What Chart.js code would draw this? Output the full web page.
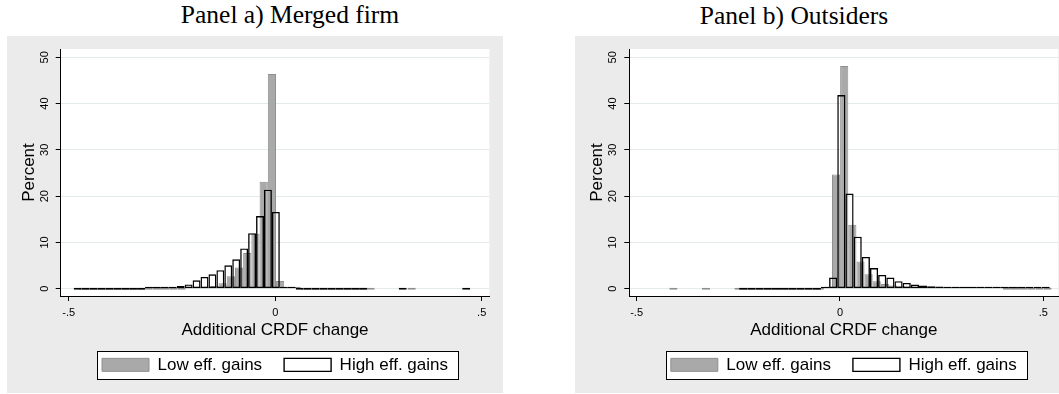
<!DOCTYPE html>
<html>
<head>
<meta charset="utf-8">
<script src="https://cdn.jsdelivr.net/npm/chart.js@4.4.1/dist/chart.umd.min.js"></script>
<style>
  html, body { margin: 0; padding: 0; background: #fff; }
  body { position: relative; width: 1059px; height: 394px; overflow: hidden; }
  .ptitle {
    position: absolute; top: 0; width: 400px; text-align: center;
    font-family: "Liberation Serif", "Times New Roman", serif; font-size: 25.5px;
    line-height: 30px; color: #000; white-space: nowrap;
  }
  .panel { position: absolute; top: 36px; height: 357px; background: #ebebeb; }
  canvas { display: block; }
</style>
</head>
<body>
<div class="ptitle" id="titleA" style="left:90px"></div>
<div class="ptitle" id="titleB" style="left:594px;top:1px"></div>
<div class="panel" style="left:7px;width:496px"><canvas id="chartA" width="496" height="357"></canvas></div>
<div class="panel" style="left:575px;width:484px"><canvas id="chartB" width="484" height="357"></canvas></div>
<script>
// ---- data ----
const panelTitles = ['Panel a) Merged firm', 'Panel b) Outsiders'];
const seriesNames = ['Low eff. gains', 'High eff. gains'];
const xAxisTitle = 'Additional CRDF change';
const yAxisTitle = 'Percent';
const xTickValues = [-0.5, 0, 0.5];
const xTickLabels = ['-.5', '0', '.5'];
const yTickValues = [0, 10, 20, 30, 40, 50];

// Merged firm, low efficiency gains: first bin edge, bin width, percent per bin
const mergedLowStart = -0.4756;
const mergedLowWidth = 0.0199;
const mergedLowPct = [
  0, 0, 0, 0, 0, 0, 0, 0, 0, 0, 0, 0, 0,
  0.07, 0.15, 0.3, 0.6, 1.2, 2.7, 4.6, 7.7, 11.9, 23.1, 46.4, 1.65, 0.3, 0.1,
  0, 0, 0, 0, 0, 0, 0, 0, 0,
  null, null, null, null, 0
];

// Merged firm, high efficiency gains
const mergedHighStart = -0.488;
const mergedHighWidth = 0.0192;
const mergedHighPct = [
  0, 0, 0, 0, 0, 0, 0, 0, 0,
  0.06, 0.12, 0.22, 0.35, 0.6, 0.92, 1.8, 2.55, 3.1, 4.0, 5.05, 6.35, 8.7, 12.0, 15.7, 21.4, 16.6, 0.4, 0.15,
  0, 0, 0, 0, 0, 0, 0, 0, 0,
  null, null, null, null, 0,
  null, null, null, null, null, null, null, 0
];

// Outsiders, low efficiency gains
const outsiderLowStart = -0.4195;
const outsiderLowWidth = 0.02;
const outsiderLowPct = [
  0, null, null, null, 0, null, null, null,
  0, 0, 0, 0, 0, 0, 0, 0, 0, 0, 0,
  0.3, 24.7, 48.1, 13.8, 5.85, 3.1, 1.6, 1.0, 0.7, 0.55, 0.45, 0.38, 0.32, 0.27, 0.22,
  0.18, 0.15, 0.12, 0.1, 0.08, 0.06, 0.05,
  0, 0, 0, 0, 0, 0
];

// Outsiders, high efficiency gains
const outsiderHighStart = -0.2478;
const outsiderHighWidth = 0.0201;
const outsiderHighPct = [
  0, 0, 0, 0, 0, 0, 0, 0, 0, 0,
  0.2, 2.4, 41.85, 20.55, 11.25, 6.87, 4.45, 2.97, 2.4, 1.63, 1.25, 0.9, 0.68, 0.52,
  0.45, 0.4, 0.33, 0.28, 0.24, 0.2, 0.17, 0.14, 0.12, 0.1, 0.08, 0.06, 0.05, 0.04
];

// ---- drawing ----
document.getElementById('titleA').textContent = panelTitles[0];
document.getElementById('titleB').textContent = panelTitles[1];

const SANS = '"Liberation Sans", Arial, sans-serif';
Chart.defaults.font.family = SANS;
Chart.defaults.color = '#000';

function binPoints(start, width, pct) {
  return pct.map((v, i) => ({ x: start + width * (i + 0.5), y: v }));
}

// white plot region and framed legend box
const plotFrame = {
  id: 'plotFrame',
  beforeDraw(chart) {
    const { ctx, chartArea: a } = chart;
    ctx.save();
    ctx.fillStyle = '#ffffff';
    ctx.fillRect(a.left, a.top, a.right - a.left, a.bottom - a.top);
    const hb = chart.legend && chart.legend.legendHitBoxes;
    if (hb && hb.length) {
      const first = hb[0], last = hb[hb.length - 1];
      const cy = first.top + first.height / 2;
      const x0 = Math.round(first.left - 5) + 0.5;
      const x1 = Math.round(last.left + last.width + 10) + 0.5;
      const y0 = Math.round(cy - 14) + 0.5;
      ctx.fillRect(x0, y0, x1 - x0, 28);
      ctx.strokeStyle = '#000';
      ctx.lineWidth = 1;
      ctx.strokeRect(x0, y0, x1 - x0, 28);
    }
    ctx.restore();
  }
};

function makePanel(id, low, high, g) {
  const xCommon = {
    type: 'linear', min: g.xMin, max: g.xMax, offset: false
  };
  const barStyle = {
    grouped: false,
    borderSkipped: false,
    inflateAmount: 0,
    barPercentage: 1,
    categoryPercentage: 1,
    minBarLength: 2
  };
  return new Chart(document.getElementById(id), {
    type: 'bar',
    data: {
      datasets: [
        Object.assign({
          label: seriesNames[0],
          data: binPoints(low.start, low.width, low.pct),
          xAxisID: 'x',
          order: 2,
          backgroundColor: '#a9a9a9',
          borderColor: '#8f8f8f',
          borderWidth: 1
        }, barStyle),
        Object.assign({
          label: seriesNames[1],
          data: binPoints(high.start, high.width, high.pct),
          xAxisID: 'x2',
          order: 1,
          backgroundColor: 'rgba(255,255,255,0)',
          borderColor: '#000',
          borderWidth: 1.4
        }, barStyle)
      ]
    },
    options: {
      responsive: false,
      maintainAspectRatio: false,
      animation: false,
      devicePixelRatio: 1,
      events: [],
      layout: { padding: { left: 0, right: g.padRight, top: 13, bottom: 9.65 } },
      scales: {
        x: Object.assign({}, xCommon, {
          position: 'bottom',
          afterBuildTicks: (s) => { s.ticks = xTickValues.map(v => ({ value: v })); },
          afterFit: (s) => { s.height = 38.35; },
          ticks: {
            autoSkip: false, maxRotation: 0, minRotation: 0, padding: 5,
            font: { size: 11 }, color: '#000',
            callback: (v, i) => xTickLabels[i]
          },
          grid: { drawOnChartArea: false, drawTicks: true, tickLength: 5, tickColor: '#000', tickWidth: 1, offset: false },
          border: { display: true, color: '#000', width: 1 },
          title: {
            display: true, text: xAxisTitle, color: '#000',
            font: { size: 17, lineHeight: 1 }, padding: { top: 0, bottom: -4.15 }
          }
        }),
        x2: Object.assign({}, xCommon, { display: false, grid: { offset: false } }),
        y: {
          type: 'linear', position: 'left', min: -1.58, max: 51.8,
          afterBuildTicks: (s) => { s.ticks = yTickValues.map(v => ({ value: v })); },
          afterFit: (s) => { s.width = g.yWidth; },
          ticks: {
            minRotation: 90, maxRotation: 90, crossAlign: 'center', padding: g.yTickPad,
            font: { size: 11 }, color: '#000',
            callback: (v) => String(v)
          },
          grid: { color: '#e3ebeb', lineWidth: 1, drawTicks: true, tickLength: 5, tickColor: '#000', tickWidth: 1 },
          border: { display: true, color: '#000', width: 1 },
          title: {
            display: true, text: yAxisTitle, color: '#000',
            font: { size: 17, lineHeight: 1.2 }, padding: { top: 12.6, bottom: 0 }
          }
        }
      },
      plugins: {
        legend: {
          display: true,
          position: 'bottom',
          fullSize: false,
          labels: {
            boxWidth: 47, boxHeight: 13, padding: 22,
            font: { size: 17 }, color: '#000',
            sort: (a, b) => a.datasetIndex - b.datasetIndex
          }
        },
        tooltip: { enabled: false }
      }
    },
    plugins: [plotFrame]
  });
}

makePanel('chartA',
  { start: mergedLowStart, width: mergedLowWidth, pct: mergedLowPct },
  { start: mergedHighStart, width: mergedHighWidth, pct: mergedHighPct },
  { xMin: -0.5194, xMax: 0.5184, padRight: 13.7, yWidth: 53.7, yTickPad: 4.6 });

makePanel('chartB',
  { start: outsiderLowStart, width: outsiderLowWidth, pct: outsiderLowPct },
  { start: outsiderHighStart, width: outsiderHighWidth, pct: outsiderHighPct },
  { xMin: -0.518, xMax: 0.537, padRight: 0.7, yWidth: 54.3, yTickPad: 4.9 });
</script>
</body>
</html>
